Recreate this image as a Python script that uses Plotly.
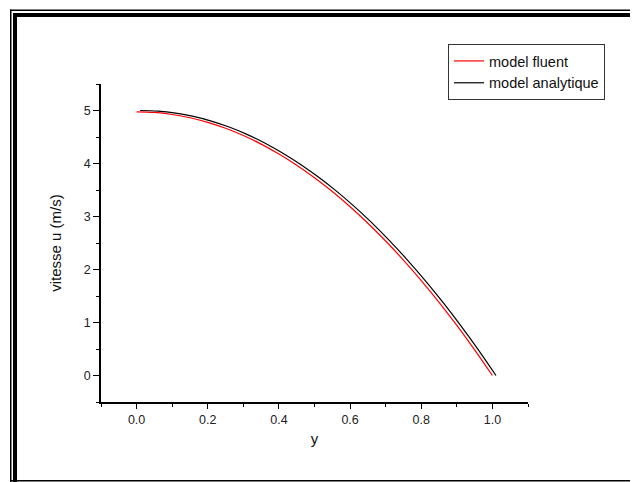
import plotly.graph_objects as go

# Data
y_fluent = [0.00, 0.05, 0.10, 0.15, 0.20, 0.25, 0.30, 0.35, 0.40, 0.45, 0.50,
            0.55, 0.60, 0.65, 0.70, 0.75, 0.80, 0.85, 0.90, 0.95, 1.00]
u_fluent = [4.975, 4.963, 4.925, 4.863, 4.776, 4.664, 4.527, 4.366, 4.179, 3.968, 3.731,
            3.470, 3.184, 2.873, 2.537, 2.176, 1.791, 1.381, 0.945, 0.485, 0.0]

y_analytic = [0.01, 0.06, 0.11, 0.16, 0.21, 0.26, 0.31, 0.36, 0.41, 0.46, 0.51,
              0.56, 0.61, 0.66, 0.71, 0.76, 0.81, 0.86, 0.91, 0.96, 1.01]
u_analytic = [5.000, 4.988, 4.950, 4.888, 4.800, 4.688, 4.550, 4.388, 4.200, 3.988, 3.750,
              3.488, 3.200, 2.888, 2.550, 2.188, 1.800, 1.388, 0.950, 0.488, 0.0]

series_names = ["model fluent", "model analytique"]
x_title = "y"
y_title = "vitesse u (m/s)"

# page has an 8px body margin; work in page pixel coordinates and shift
OFF = 8
W, H = 638 - OFF, 482 - OFF
L, R, T, B = 101 - OFF, 528 - OFF, 84 - OFF, 402 - OFF

def px(x):
    return (x - OFF - L) / (R - L)

def py(y):
    return (B - (y - OFF)) / (B - T)

FONT = "Liberation Sans, Arial, sans-serif"

fig = go.Figure()
fig.add_trace(go.Scatter(x=y_fluent, y=u_fluent, mode="lines", name=series_names[0],
                         line=dict(color="#ff0000", width=1.2, shape="spline")))
fig.add_trace(go.Scatter(x=y_analytic, y=u_analytic, mode="lines", name=series_names[1],
                         line=dict(color="#000000", width=1.2, shape="spline")))

shapes = []
def rect(x0, y0, x1, y1):
    shapes.append(dict(type="rect", xref="paper", yref="paper",
                       x0=px(x0), x1=px(x1), y0=py(y0), y1=py(y1),
                       fillcolor="black", line=dict(width=0), layer="above"))

# frame: double lines left and top, thin bottom line (page coordinates)
rect(10, 9.5, 11.5, 482)
rect(13, 13, 17, 482)
rect(10, 9.5, 640, 11)
rect(13, 13, 640, 17)
rect(10, 480, 640, 481.5)

fig.update_layout(
    width=W, height=H,
    margin=dict(l=L, r=W - R, t=T, b=H - B, pad=0),
    paper_bgcolor="white", plot_bgcolor="white",
    font=dict(family=FONT, size=12, color="#222"),
    shapes=shapes,
    showlegend=True,
    legend=dict(x=px(448), y=py(44), xanchor="left", yanchor="top",
                bordercolor="#333", borderwidth=1, bgcolor="white",
                font=dict(family=FONT, size=14.5, color="#111"),
                itemwidth=30, tracegroupgap=0),
    xaxis=dict(range=[-0.1, 1.1], tickmode="array",
               tickvals=[0.0, 0.2, 0.4, 0.6, 0.8, 1.0],
               ticktext=["0.0", "0.2", "0.4", "0.6", "0.8", "1.0"],
               showgrid=False, zeroline=False, showline=True, linecolor="black", linewidth=1.6,
               ticks="outside", ticklen=5, tickwidth=1.3, tickcolor="black",
               minor=dict(tickvals=[-0.1, 0.1, 0.3, 0.5, 0.7, 0.9, 1.1], ticks="outside",
                          ticklen=3, tickwidth=1.3, tickcolor="black", showgrid=False),
               tickfont=dict(family=FONT, size=12.5, color="#222"),
               title=dict(text=x_title, font=dict(family=FONT, size=15, color="#111"), standoff=8)),
    yaxis=dict(range=[-0.5, 5.5], tickmode="array",
               tickvals=[0, 1, 2, 3, 4, 5],
               ticktext=["0", "1", "2", "3", "4", "5"],
               showgrid=False, zeroline=False, showline=True, linecolor="black", linewidth=1.6,
               ticks="outside", ticklen=6, tickwidth=1.3, tickcolor="black",
               minor=dict(tickvals=[-0.5, 0.5, 1.5, 2.5, 3.5, 4.5, 5.5], ticks="outside",
                          ticklen=3, tickwidth=1.3, tickcolor="black", showgrid=False),
               tickfont=dict(family=FONT, size=12.5, color="#222"),
               title=dict(text=y_title, font=dict(family=FONT, size=15, color="#111"), standoff=18)),
)

fig.write_html("out.html")
